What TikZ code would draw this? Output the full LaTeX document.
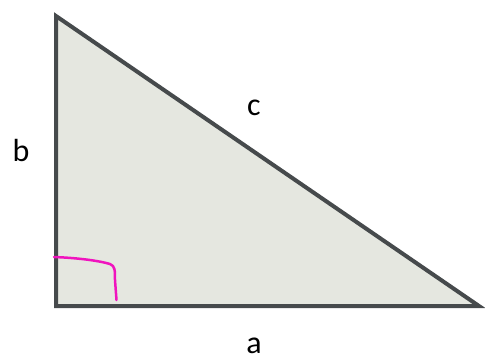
\documentclass[tikz,border=0pt]{standalone}
\usepackage{fontspec}
\setmainfont{Carlito}
\usepackage{xcolor}
\definecolor{edgegray}{RGB}{70,74,76}
\definecolor{fillgray}{RGB}{229,231,224}
\definecolor{markpink}{RGB}{240,20,190}

\begin{document}
\begin{tikzpicture}[
    x=1pt, y=-1pt,
    side/.style={draw=edgegray, line width=4pt, line join=miter, fill=fillgray},
    sidelabel/.style={font=\fontsize{32}{36}\selectfont, text=black, inner sep=0pt},
    rightmark/.style={draw=markpink, line width=2.5pt, line cap=round, line join=round}
]
\useasboundingbox (0,0) rectangle (485,360);
\coordinate (top) at (56,16);
\coordinate (left) at (56,306);
\coordinate (right) at (479,306);
\draw[side] (top) -- (left) -- (right) -- cycle;
% hand drawn right angle mark
\draw[rightmark] (54,257) .. controls (80,258) and (100,261) .. (110,264)
    .. controls (115,266) and (115,270) .. (115,280) -- (116.5,300);
\node[sidelabel] (b) at (21,150) {b};
\node[sidelabel] (c) at (254,108) {c};
\node[sidelabel] (a) at (254,346) {a};
\end{tikzpicture}
\end{document}
